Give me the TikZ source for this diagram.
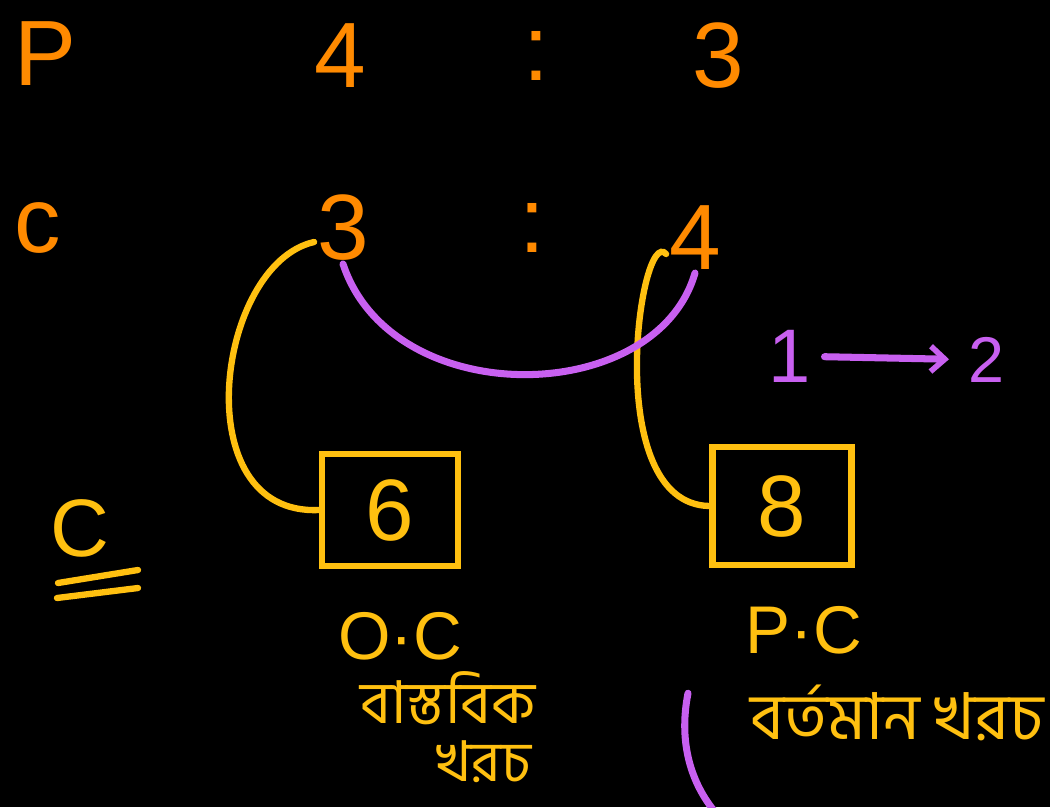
\documentclass[tikz,border=0pt]{standalone}
\usepackage{fontspec}
\setmainfont{Liberation Sans}
\newfontfamily\bngfont[Script=Bengali]{Hind Siliguri}
\usetikzlibrary{arrows.meta, positioning}
\definecolor{inkorange}{RGB}{255, 138, 0}
\definecolor{inkyellow}{RGB}{255, 192, 16}
\definecolor{inkpurple}{RGB}{200, 96, 240}
\tikzset{
  ratio/.style   = {text=inkorange, font=\fontsize{66}{66}\selectfont, inner sep=2pt},
  costbox/.style = {draw=inkyellow, line width=4.5pt, minimum width=3.4cm, minimum height=2.8cm, text=inkyellow, font=\fontsize{62}{62}\selectfont},
  link/.style    = {inkyellow, line width=4.5pt, line cap=round},
  swapline/.style= {inkpurple, line width=5pt, line cap=round},
  note/.style    = {text=inkyellow, font=\fontsize{48}{48}\selectfont},
  bnote/.style   = {text=inkyellow, font=\bngfont\fontsize{46}{50}\selectfont, inner sep=0pt, text height=0.95cm, text depth=0.2cm},
  pnote/.style   = {text=inkpurple, font=\fontsize{54}{54}\selectfont},
}

\begin{document}
\begin{tikzpicture}
  % page and background
  \useasboundingbox (0,0) rectangle (26.25,-20.175);
  \fill[black] (0,0) rectangle (26.25,-20.175);

  % ratio rows
  \node[ratio] (pLbl)   at (1.125,-1.35) {P};
  \node[ratio] (pA)     at (8.5,-1.4)    {4};
  \node[ratio] (pColon) at (13.4,-1.4)   {:};
  \node[ratio] (pB)     at (17.95,-1.4)  {3};
  \node[ratio] (cLbl)   at (0.95,-5.7)   {c};
  \node[ratio] (cA)     at (8.575,-5.7)  {3};
  \node[ratio] (cColon) at (13.3,-5.7)   {:};
  \node[ratio] (cB)     at (17.375,-5.95) {4};

  % cost boxes
  \node[costbox] (boxOC) at (9.75,-12.75)  {6};
  \node[costbox, minimum width=3.475cm, minimum height=2.95cm] (boxPC) at (19.55,-12.65) {8};

  % links from ratio to box
  \draw[link] ([yshift=-0.35cm]cA.west) .. controls (5.4,-6.6) and (4.6,-12.9) .. (boxOC.west);
  \draw[link] ([yshift=-0.4cm]cB.west) .. controls (16.0,-5.6) and (15.0,-12.6) .. (boxPC.west);

  % swap arc
  \draw[swapline] (cA.south) .. controls (9.8,-10.3) and (16.4,-10.2) .. (cB.south);

  % 1 -> 2
  \node[pnote] (one) at (19.75,-8.9) {1};
  \node[pnote, font=\fontsize{46}{46}\selectfont] (two) at (24.65,-9.0) {2};
  \draw[swapline, -{Straight Barb[length=10pt, width=18pt, line width=4pt]}, shorten <=6pt, shorten >=10pt] (one) -- (two);

  % C with double underline
  \node[note, font=\fontsize{58}{58}\selectfont] (cMark) at (2.0,-13.2) {C};
  \draw[link] (1.45,-14.575) -- (3.45,-14.25);
  \draw[link] (1.425,-14.95) -- (3.45,-14.7);

  % labels under boxes
  \node[note] (ocLbl) at (10.0,-15.9)  {O·C};
  \node[note] (pcLbl) at (20.1,-15.75) {P·C};
  \node[bnote, font=\bngfont\fontsize{42}{46}\selectfont] (ocText1) at (11.2,-17.7) {বাস্তবিক};
  \node[bnote, font=\bngfont\fontsize{40}{44}\selectfont] (ocText2) at (12.1,-19.15) {খরচ};
  \node[bnote, anchor=east] (pcText) at (26.1,-18.1) {বর্তমান খরচ};

  % purple bracket at bottom
  \draw[swapline] (17.2,-17.33) .. controls (16.95,-18.6) and (17.3,-19.6) .. (17.875,-20.3);
\end{tikzpicture}
\end{document}
